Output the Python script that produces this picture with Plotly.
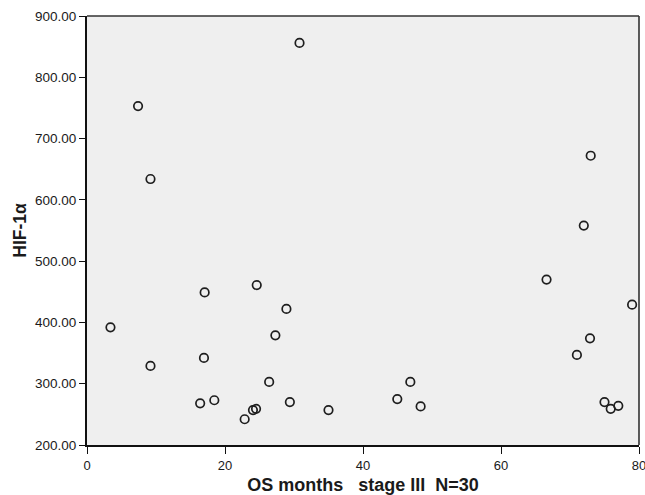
import plotly.graph_objects as go

os_months = [3.4, 7.4, 9.2, 30.8, 9.2, 17.05, 16.95, 16.4, 18.45, 22.85, 24.05, 24.5,
             24.6, 28.9, 27.3, 26.4, 29.4, 35.0, 44.97, 46.86, 48.35, 66.6, 79.0, 72.9,
             71.0, 75.0, 75.9, 77.0, 73.0, 72.0]
hif1a = [392, 753, 634, 856, 329, 449, 342, 268, 273, 242, 257, 259,
         461, 422, 379, 303, 270, 257, 275, 303, 263, 470, 429, 374,
         347, 270, 259, 264, 672, 558]

x_ticks = [0, 20, 40, 60, 80]
y_ticks = [200, 300, 400, 500, 600, 700, 800, 900]
y_tick_labels = [f"{v:.2f}" for v in y_ticks]

fig = go.Figure()
fig.add_trace(go.Scatter(
    x=os_months, y=hif1a, mode="markers",
    marker=dict(symbol="circle-open", size=8.5, color="#1e1e1e", line=dict(width=1.7, color="#1e1e1e")),
    showlegend=False, cliponaxis=False,
))

fig.update_layout(
    width=645, height=495,
    margin=dict(l=87, r=6, t=16, b=50),
    paper_bgcolor="white", plot_bgcolor="#efefef",
    font=dict(family="Arial, Liberation Sans, sans-serif", color="#1a1a1a", size=13),
    xaxis=dict(
        range=[0, 80], tickmode="array", tickvals=x_ticks, ticktext=[str(v) for v in x_ticks],
        showgrid=False, zeroline=False, showline=True, linecolor="#111111", linewidth=2,
        ticks="outside", ticklen=7, tickcolor="#111111", tickwidth=1,
        tickfont=dict(size=13), ticklabeloverflow="allow", automargin=False,
        title=dict(text="<b>OS months   stage III  N=30</b>", font=dict(size=18), standoff=9),
    ),
    yaxis=dict(
        range=[200, 900], tickmode="array", tickvals=y_ticks, ticktext=y_tick_labels,
        showgrid=False, zeroline=False, showline=True, linecolor="#111111", linewidth=2,
        ticks="outside", ticklen=6, tickcolor="#111111", tickwidth=1,
        tickfont=dict(size=13.5), ticklabeloverflow="allow", automargin=False,
        title=dict(text="<b>HIF-1α</b>", font=dict(size=17.5), standoff=4),
    ),
    shapes=[
        dict(type="line", xref="paper", yref="paper", x0=0, x1=1, y0=1, y1=1,
             line=dict(color="#333333", width=1.6)),
        dict(type="line", xref="paper", yref="paper", x0=1, x1=1, y0=0, y1=1,
             line=dict(color="#333333", width=1.6)),
    ],
)

fig.write_html(
    "out.html",
    config={"displayModeBar": False},
    post_script="document.body.style.margin='0px';document.body.style.overflow='hidden';",
)
